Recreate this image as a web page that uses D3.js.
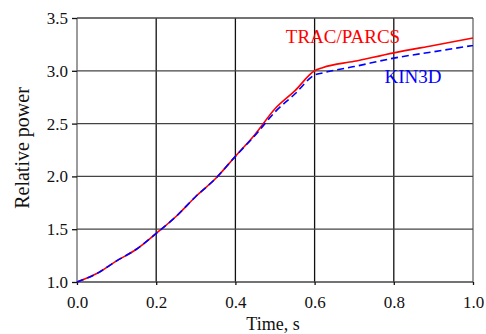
<!DOCTYPE html>
<html>
<head>
<meta charset="utf-8">
<script src="https://cdn.jsdelivr.net/npm/d3@7"></script>
<style>
  body { margin: 0; background: #fff; }
  svg text { font-family: "Liberation Serif", "DejaVu Serif", "Times New Roman", serif !important; }
</style>
</head>
<body>
<div id="chart"></div>
<script>
// data
var times = [0, 0.05, 0.1, 0.15, 0.2, 0.25, 0.3, 0.35, 0.4, 0.45, 0.5, 0.55, 0.6, 0.62, 0.7, 0.8, 0.9, 1.0];
var tracParcs = [1.0, 1.08, 1.2, 1.31, 1.46, 1.62, 1.81, 1.98, 2.19, 2.40, 2.64, 2.81, 3.00, 3.03, 3.09, 3.17, 3.24, 3.31];
var kin3d = [1.0, 1.08, 1.2, 1.31, 1.46, 1.62, 1.81, 1.98, 2.19, 2.39, 2.61, 2.78, 2.96, 2.98, 3.04, 3.12, 3.18, 3.24];
var xTicks = [0, 0.2, 0.4, 0.6, 0.8, 1.0];
var yTicks = [1.0, 1.5, 2.0, 2.5, 3.0, 3.5];

var svgWidth = 486;
var svgHeight = 334;
var margin = { top: 18, right: 13, bottom: 52, left: 77 };
var chartWidth = svgWidth - margin.left - margin.right;
var chartHeight = svgHeight - margin.top - margin.bottom;

var svg = d3.select("#chart")
    .append("svg")
    .attr("width", svgWidth)
    .attr("height", svgHeight);

var chartGroup = svg.append("g")
    .attr("transform", `translate(${margin.left}, ${margin.top})`);

var xScale = d3.scaleLinear().domain([0, 1]).range([0, chartWidth]);
var yScale = d3.scaleLinear().domain([1, 3.5]).range([chartHeight, 0]);

// grid lines
chartGroup.append("g")
    .selectAll("line")
    .data(xTicks)
    .enter()
    .append("line")
    .attr("x1", d => xScale(d))
    .attr("x2", d => xScale(d))
    .attr("y1", 0)
    .attr("y2", chartHeight)
    .attr("stroke", d => (d === 0 || d === 1) ? "#666" : "#111")
    .attr("stroke-width", 1.3);

chartGroup.append("g")
    .selectAll("line")
    .data(yTicks)
    .enter()
    .append("line")
    .attr("x1", 0)
    .attr("x2", chartWidth)
    .attr("y1", d => yScale(d))
    .attr("y2", d => yScale(d))
    .attr("stroke", "#444")
    .attr("stroke-width", 1.3);

// axes
var bottomAxis = d3.axisBottom(xScale)
    .tickValues(xTicks)
    .tickFormat(d3.format(".1f"))
    .tickSize(3)
    .tickPadding(11);
var leftAxis = d3.axisLeft(yScale)
    .tickValues(yTicks)
    .tickFormat(d3.format(".1f"))
    .tickSize(5)
    .tickPadding(4);

var xAxis = chartGroup.append("g")
    .attr("transform", `translate(0, ${chartHeight})`)
    .call(bottomAxis);
var yAxis = chartGroup.append("g")
    .call(leftAxis);

[xAxis, yAxis].forEach(function(ax) {
    ax.attr("font-family", "Liberation Serif");
    ax.select(".domain").remove();
    ax.selectAll("line").attr("stroke", "#111").attr("stroke-width", 1.3);
    ax.selectAll("text")
        .attr("fill", "#111")
        .attr("font-family", "Liberation Serif")
        .style("font-size", "17px");
});

// lines
var powerLine = d3.line()
    .x((d, i) => xScale(times[i]))
    .y(d => yScale(d))
    .curve(d3.curveMonotoneX);

chartGroup.append("path")
    .datum(tracParcs)
    .attr("d", powerLine)
    .attr("fill", "none")
    .attr("stroke", "#ff0000")
    .attr("stroke-width", 1.6);

chartGroup.append("path")
    .datum(kin3d)
    .attr("d", powerLine)
    .attr("fill", "none")
    .attr("stroke", "#0000ff")
    .attr("stroke-width", 1.6)
    .attr("stroke-dasharray", "7,4");

// labels
chartGroup.append("text")
    .attr("x", 343 - margin.left)
    .attr("y", 43 - margin.top)
    .attr("text-anchor", "middle")
    .attr("fill", "#ff0000")
    .style("font-size", "19px")
    .text("TRAC/PARCS");

chartGroup.append("text")
    .attr("x", 413 - margin.left)
    .attr("y", 83 - margin.top)
    .attr("text-anchor", "middle")
    .attr("fill", "#0000ff")
    .style("font-size", "19px")
    .text("KIN3D");

svg.append("text")
    .attr("x", margin.left + chartWidth / 2 - 2)
    .attr("y", 330)
    .attr("text-anchor", "middle")
    .attr("fill", "#111")
    .style("font-size", "18px")
    .text("Time, s");

svg.append("text")
    .attr("transform", `translate(29, ${margin.top + chartHeight / 2 - 2}) rotate(-90)`)
    .attr("text-anchor", "middle")
    .attr("fill", "#111")
    .style("font-size", "20px")
    .text("Relative power");
</script>
</body>
</html>
